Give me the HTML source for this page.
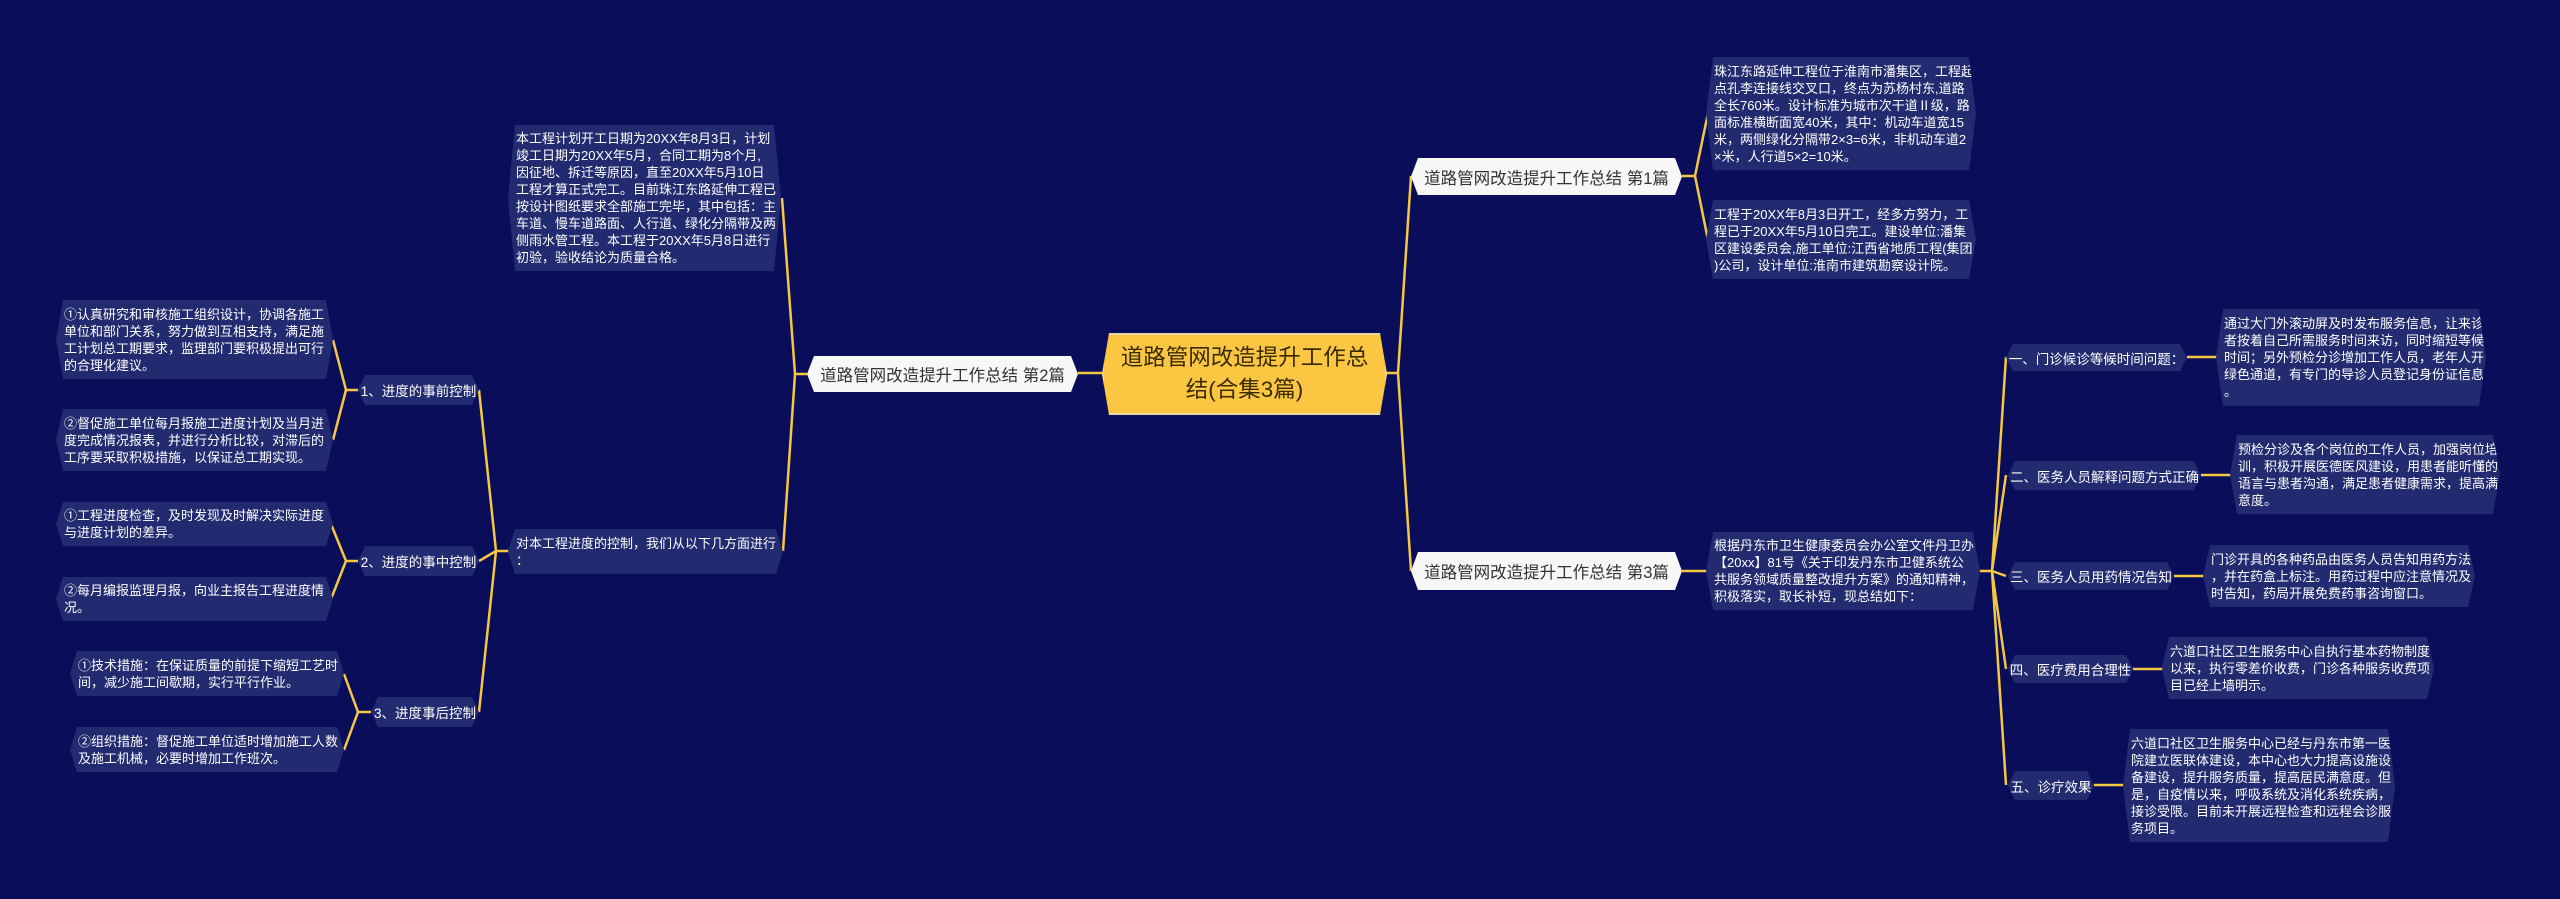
<!DOCTYPE html>
<html><head><meta charset="utf-8"><style>
html,body{margin:0;padding:0;width:2560px;height:899px;overflow:hidden;background:#0a0d5a;}
body{position:relative;font-family:"Liberation Sans","Noto Sans CJK SC",sans-serif;}
.b{position:absolute;box-sizing:border-box;color:#fff;white-space:nowrap;
clip-path:polygon(7px 0,calc(100% - 7px) 0,100% 50%,calc(100% - 7px) 100%,7px 100%,0 50%);}
.leaf{background:#222a70;font-size:13px;line-height:17px;padding:5px 8px;display:flex;flex-direction:column;justify-content:center;}
.sub{background:#222a70;font-size:13.5px;display:flex;align-items:center;justify-content:center;}
.main{background:#f7f7f7;color:#333;font-size:16.5px;display:flex;align-items:center;justify-content:center;}
.center{background:#fbc743;color:#3a2a00;font-size:22.5px;line-height:32px;text-align:center;display:flex;align-items:center;justify-content:center;border:2px solid #e8d7a0;}
svg{position:absolute;left:0;top:0;}
</style></head><body>
<svg width="2560" height="899"><g fill="none" stroke="#f5c842" stroke-width="2.5">
<path d="M1104 373 H1078"/>
<path d="M807 374 H795 L782 198 M795 374 L783 551"/>
<path d="M510 551 H496 L479 390 M496 551 L479 561 M496 551 L479 712"/>
<path d="M358 390 H346 L333 340 M346 390 L333 440"/>
<path d="M358 561 H346 L331 524 M346 561 L331 599"/>
<path d="M371 712 H358 L344 674 M358 712 L344 750"/>
<path d="M1386 373 H1398 L1411 176 M1398 373 L1411 571"/>
<path d="M1682 176 H1695 L1708 113 M1695 176 L1708 240"/>
<path d="M1682 571 H1708"/>
<path d="M1980 571 H1992 L2006 357 M1992 571 L2006 475 M1992 571 L2006 576 M1992 571 L2006 669 M1992 571 L2006 785"/>
<path d="M2187 357 H2218 M2201 475 H2232 M2174 576 H2205 M2133 669 H2164 M2094 785 H2125"/>
</g></svg>

<div class="b center" style="left:1102px;top:333px;width:285px;height:82px;">道路管网改造提升工作总<br>结(合集3篇)</div>

<div class="b main" style="left:807px;top:356px;width:271px;height:36px;">道路管网改造提升工作总结 第2篇</div>
<div class="b main" style="left:1411px;top:158px;width:271px;height:37px;">道路管网改造提升工作总结 第1篇</div>
<div class="b main" style="left:1411px;top:552px;width:271px;height:38px;">道路管网改造提升工作总结 第3篇</div>

<div class="b leaf" style="left:508px;top:125px;width:273px;height:146px;">本工程计划开工日期为20XX年8月3日，计划<br>竣工日期为20XX年5月，合同工期为8个月,<br>因征地、拆迁等原因，直至20XX年5月10日<br>工程才算正式完工。目前珠江东路延伸工程已<br>按设计图纸要求全部施工完毕，其中包括：主<br>车道、慢车道路面、人行道、绿化分隔带及两<br>侧雨水管工程。本工程于20XX年5月8日进行<br>初验，验收结论为质量合格。</div>
<div class="b leaf" style="left:508px;top:529px;width:275px;height:45px;">对本工程进度的控制，我们从以下几方面进行<br>：</div>

<div class="b sub" style="left:358px;top:375px;width:121px;height:30px;">1、进度的事前控制</div>
<div class="b sub" style="left:358px;top:546px;width:121px;height:30px;">2、进度的事中控制</div>
<div class="b sub" style="left:371px;top:697px;width:108px;height:30px;">3、进度事后控制</div>

<div class="b leaf" style="left:56px;top:300px;width:277px;height:79px;">①认真研究和审核施工组织设计，协调各施工<br>单位和部门关系，努力做到互相支持，满足施<br>工计划总工期要求，监理部门要积极提出可行<br>的合理化建议。</div>
<div class="b leaf" style="left:56px;top:409px;width:277px;height:62px;">②督促施工单位每月报施工进度计划及当月进<br>度完成情况报表，并进行分析比较，对滞后的<br>工序要采取积极措施，以保证总工期实现。</div>
<div class="b leaf" style="left:56px;top:502px;width:277px;height:44px;">①工程进度检查，及时发现及时解决实际进度<br>与进度计划的差异。</div>
<div class="b leaf" style="left:56px;top:577px;width:277px;height:44px;">②每月编报监理月报，向业主报告工程进度情<br>况。</div>
<div class="b leaf" style="left:70px;top:651px;width:274px;height:45px;">①技术措施：在保证质量的前提下缩短工艺时<br>间，减少施工间歇期，实行平行作业。</div>
<div class="b leaf" style="left:70px;top:727px;width:274px;height:45px;">②组织措施：督促施工单位适时增加施工人数<br>及施工机械，必要时增加工作班次。</div>

<div class="b leaf" style="left:1706px;top:57px;width:270px;height:113px;">珠江东路延伸工程位于淮南市潘集区，工程起<br>点孔李连接线交叉口，终点为苏杨村东,道路<br>全长760米。设计标准为城市次干道Ⅱ级，路<br>面标准横断面宽40米，其中：机动车道宽15<br>米，两侧绿化分隔带2×3=6米，非机动车道2<br>×米，人行道5×2=10米。</div>
<div class="b leaf" style="left:1706px;top:200px;width:270px;height:79px;">工程于20XX年8月3日开工，经多方努力，工<br>程已于20XX年5月10日完工。建设单位:潘集<br>区建设委员会,施工单位:江西省地质工程(集团<br>)公司，设计单位:淮南市建筑勘察设计院。</div>
<div class="b leaf" style="left:1706px;top:532px;width:274px;height:78px;">根据丹东市卫生健康委员会办公室文件丹卫办<br>【20xx】81号《关于印发丹东市卫健系统公<br>共服务领域质量整改提升方案》的通知精神，<br>积极落实，取长补短，现总结如下：</div>

<div class="b sub" style="left:2006px;top:344px;width:181px;height:27px;">一、门诊候诊等候时间问题：</div>
<div class="b sub" style="left:2008px;top:461px;width:193px;height:29px;">二、医务人员解释问题方式正确</div>
<div class="b sub" style="left:2008px;top:562px;width:166px;height:28px;">三、医务人员用药情况告知</div>
<div class="b sub" style="left:2008px;top:655px;width:125px;height:28px;">四、医疗费用合理性</div>
<div class="b sub" style="left:2008px;top:771px;width:86px;height:29px;">五、诊疗效果</div>

<div class="b leaf" style="left:2216px;top:309px;width:270px;height:97px;">通过大门外滚动屏及时发布服务信息，让来诊<br>者按着自己所需服务时间来访，同时缩短等候<br>时间；另外预检分诊增加工作人员，老年人开<br>绿色通道，有专门的导诊人员登记身份证信息<br>。</div>
<div class="b leaf" style="left:2230px;top:435px;width:270px;height:79px;">预检分诊及各个岗位的工作人员，加强岗位培<br>训，积极开展医德医风建设，用患者能听懂的<br>语言与患者沟通，满足患者健康需求，提高满<br>意度。</div>
<div class="b leaf" style="left:2203px;top:545px;width:272px;height:62px;">门诊开具的各种药品由医务人员告知用药方法<br>，并在药盒上标注。用药过程中应注意情况及<br>时告知，药局开展免费药事咨询窗口。</div>
<div class="b leaf" style="left:2162px;top:637px;width:272px;height:62px;">六道口社区卫生服务中心自执行基本药物制度<br>以来，执行零差价收费，门诊各种服务收费项<br>目已经上墙明示。</div>
<div class="b leaf" style="left:2123px;top:729px;width:272px;height:113px;">六道口社区卫生服务中心已经与丹东市第一医<br>院建立医联体建设，本中心也大力提高设施设<br>备建设，提升服务质量，提高居民满意度。但<br>是，自疫情以来，呼吸系统及消化系统疾病，<br>接诊受限。目前未开展远程检查和远程会诊服<br>务项目。</div>
</body></html>
